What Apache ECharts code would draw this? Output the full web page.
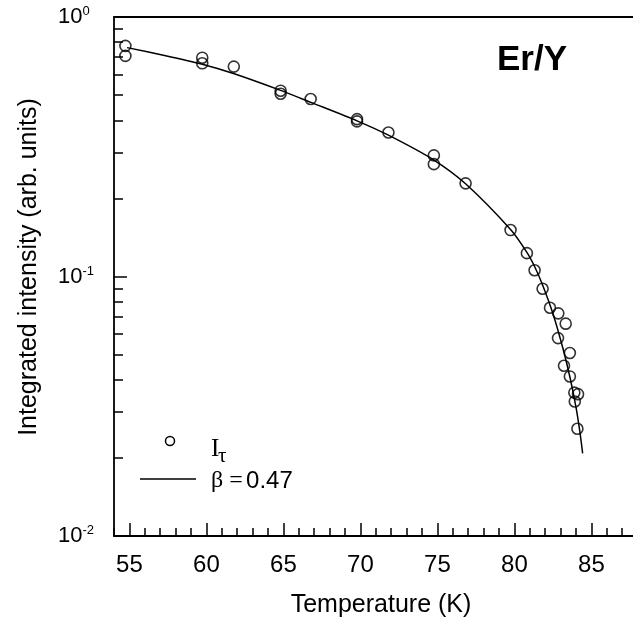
<!DOCTYPE html>
<html>
<head>
<meta charset="utf-8">
<title>Er/Y integrated intensity</title>
<script src="https://cdn.jsdelivr.net/npm/echarts@6/dist/echarts.min.js"></script>
<style>
  html, body { margin: 0; padding: 0; background: #ffffff; }
  #chart { width: 633px; height: 622px; }
</style>
</head>
<body>
<div id="chart"></div>
<script>
// Measured integrated intensity I_tau versus temperature (K)
const temperature = [54.74, 54.74, 59.73, 59.73, 61.78, 64.82, 64.82, 66.77, 69.78, 69.78,
  71.82, 74.77, 74.77, 76.83, 79.75, 80.81, 81.31, 81.83, 82.31, 82.85,
  83.33, 82.83, 83.60, 83.22, 83.60, 84.13, 83.89, 83.92, 84.09];
const intensity = [0.774, 0.708, 0.697, 0.663, 0.644, 0.520, 0.506, 0.483, 0.404, 0.396,
  0.359, 0.293, 0.271, 0.2285, 0.151, 0.123, 0.1057, 0.0897, 0.0758, 0.0721,
  0.0658, 0.0579, 0.0507, 0.0453, 0.0412, 0.0352, 0.0357, 0.0330, 0.0259];

// Power-law fit curve, beta = 0.47
const fitTemperature = [54.85, 57.28, 59.73, 61.76, 64.82, 66.79, 69.78, 71.82, 74.77, 76.83,
  79.75, 80.81, 81.31, 81.83, 82.52, 83.17, 83.61, 84.00, 84.26, 84.43];
const fitIntensity = [0.762, 0.711, 0.658, 0.606, 0.5216, 0.4686, 0.398, 0.3504, 0.2811, 0.2277,
  0.1517, 0.1239, 0.1093, 0.0928, 0.0714, 0.0523, 0.0408, 0.0313, 0.0250, 0.0208];

// Axis ticks
const xMajorTicks = [55, 60, 65, 70, 75, 80, 85];
const xMinorTicks = [54, 56, 57, 58, 59, 61, 62, 63, 64, 66, 67, 68, 69, 71, 72, 73, 74,
  76, 77, 78, 79, 81, 82, 83, 84, 86, 87];
const yMajorTicks = [0.01, 0.1, 1];
const yMinorTicks = [0.02, 0.03, 0.04, 0.05, 0.06, 0.07, 0.08, 0.09,
  0.2, 0.3, 0.4, 0.5, 0.6, 0.7, 0.8, 0.9];

const SANS = '"Liberation Sans", Arial, Helvetica, sans-serif';
const SERIF = '"Liberation Serif", "Times New Roman", serif';
const INK = '#000000';

const X_MIN = 54, X_MAX = 87.7;

const scatterData = temperature.map((t, i) => [t, intensity[i]]);
const fitData = fitTemperature.map((t, i) => [t, fitIntensity[i]]);

const chart = echarts.init(document.getElementById('chart'), null, { renderer: 'canvas' });

const option = {
  animation: false,
  backgroundColor: '#ffffff',
  grid: { left: 114, top: 17, right: 0, bottom: 86, containLabel: false },
  xAxis: [
    {
      type: 'value', min: X_MIN, max: X_MAX, position: 'bottom',
      axisLine: { show: true, lineStyle: { color: INK, width: 1.8 } },
      axisTick: { show: true, inside: true, length: 13, customValues: xMajorTicks,
        lineStyle: { color: INK, width: 1.5 } },
      axisLabel: { show: true, customValues: xMajorTicks, margin: 17, color: INK,
        fontSize: 24, fontFamily: SANS },
      splitLine: { show: false }
    },
    {
      type: 'value', min: X_MIN, max: X_MAX, position: 'bottom',
      axisLine: { show: false },
      axisTick: { show: true, inside: true, length: 8, customValues: xMinorTicks,
        lineStyle: { color: INK, width: 1.5 } },
      axisLabel: { show: false },
      splitLine: { show: false }
    },
    {
      type: 'value', min: X_MIN, max: X_MAX, position: 'top',
      axisLine: { show: true, lineStyle: { color: INK, width: 1.8 } },
      axisTick: { show: false },
      axisLabel: { show: false },
      splitLine: { show: false }
    }
  ],
  yAxis: [
    {
      type: 'log', logBase: 10, min: 0.01, max: 1, position: 'left',
      axisLine: { show: true, lineStyle: { color: INK, width: 1.8 } },
      axisTick: { show: true, inside: true, length: 13, customValues: yMajorTicks,
        lineStyle: { color: INK, width: 1.5 } },
      axisLabel: {
        show: true, customValues: yMajorTicks, align: 'left', margin: 56,
        formatter: function (v) {
          const e = Math.round(Math.log10(v));
          return '{b|10}{s|' + (e < 0 ? '-' + (-e) : e) + '}';
        },
        rich: {
          b: { fontSize: 22, fontFamily: SANS, color: INK, lineHeight: 24 },
          s: { fontSize: 13, fontFamily: SANS, color: INK, verticalAlign: 'top', lineHeight: 13 }
        }
      },
      splitLine: { show: false }
    },
    {
      type: 'log', logBase: 10, min: 0.01, max: 1, position: 'left',
      axisLine: { show: false },
      axisTick: { show: true, inside: true, length: 9, customValues: yMinorTicks,
        lineStyle: { color: INK, width: 1.5 } },
      axisLabel: { show: false },
      splitLine: { show: false }
    }
  ],
  series: [
    {
      name: 'I_tau', type: 'scatter', xAxisIndex: 0, yAxisIndex: 0,
      data: scatterData,
      symbol: 'circle', symbolSize: 11,
      itemStyle: { color: 'rgba(255,255,255,0)', borderColor: INK, borderWidth: 1.6 },
      z: 3
    },
    {
      name: 'beta = 0.47', type: 'line', xAxisIndex: 0, yAxisIndex: 0,
      data: fitData, smooth: 0.25, showSymbol: false, symbol: 'none',
      lineStyle: { color: INK, width: 1.5 },
      z: 2
    }
  ],
  graphic: [
    // axis titles
    { type: 'text', x: 381, y: 605,
      style: { text: 'Temperature (K)', fill: INK, font: '25px ' + SANS,
        align: 'center', verticalAlign: 'middle' } },
    { type: 'text', x: 29, y: 267, rotation: Math.PI / 2,
      style: { text: 'Integrated intensity (arb. units)', fill: INK, font: '25px ' + SANS,
        align: 'center', verticalAlign: 'middle' } },
    // sample label
    { type: 'text', x: 497, y: 60,
      style: { text: 'Er/Y', fill: INK, font: 'bold 35px ' + SANS,
        align: 'left', verticalAlign: 'middle' } },
    // legend
    { type: 'circle', shape: { cx: 170, cy: 441, r: 4.5 },
      style: { fill: 'none', stroke: INK, lineWidth: 1.5 } },
    { type: 'text', x: 211, y: 449,
      style: { text: 'I', fill: INK, font: '25px ' + SERIF, align: 'left', verticalAlign: 'middle' } },
    { type: 'text', x: 218, y: 456,
      style: { text: 'τ', fill: INK, font: '21px ' + SERIF, align: 'left', verticalAlign: 'middle' } },
    { type: 'line', shape: { x1: 140, y1: 479, x2: 196, y2: 479 },
      style: { stroke: INK, lineWidth: 1.5 } },
    { type: 'text', x: 211, y: 481,
      style: { text: '{g|β =} {n|0.47}', align: 'left', verticalAlign: 'middle',
        rich: {
          g: { fontSize: 24, fontFamily: SERIF, fill: INK },
          n: { fontSize: 24, fontFamily: SANS, fill: INK }
        } } }
  ]
};

chart.setOption(option);
</script>
</body>
</html>
